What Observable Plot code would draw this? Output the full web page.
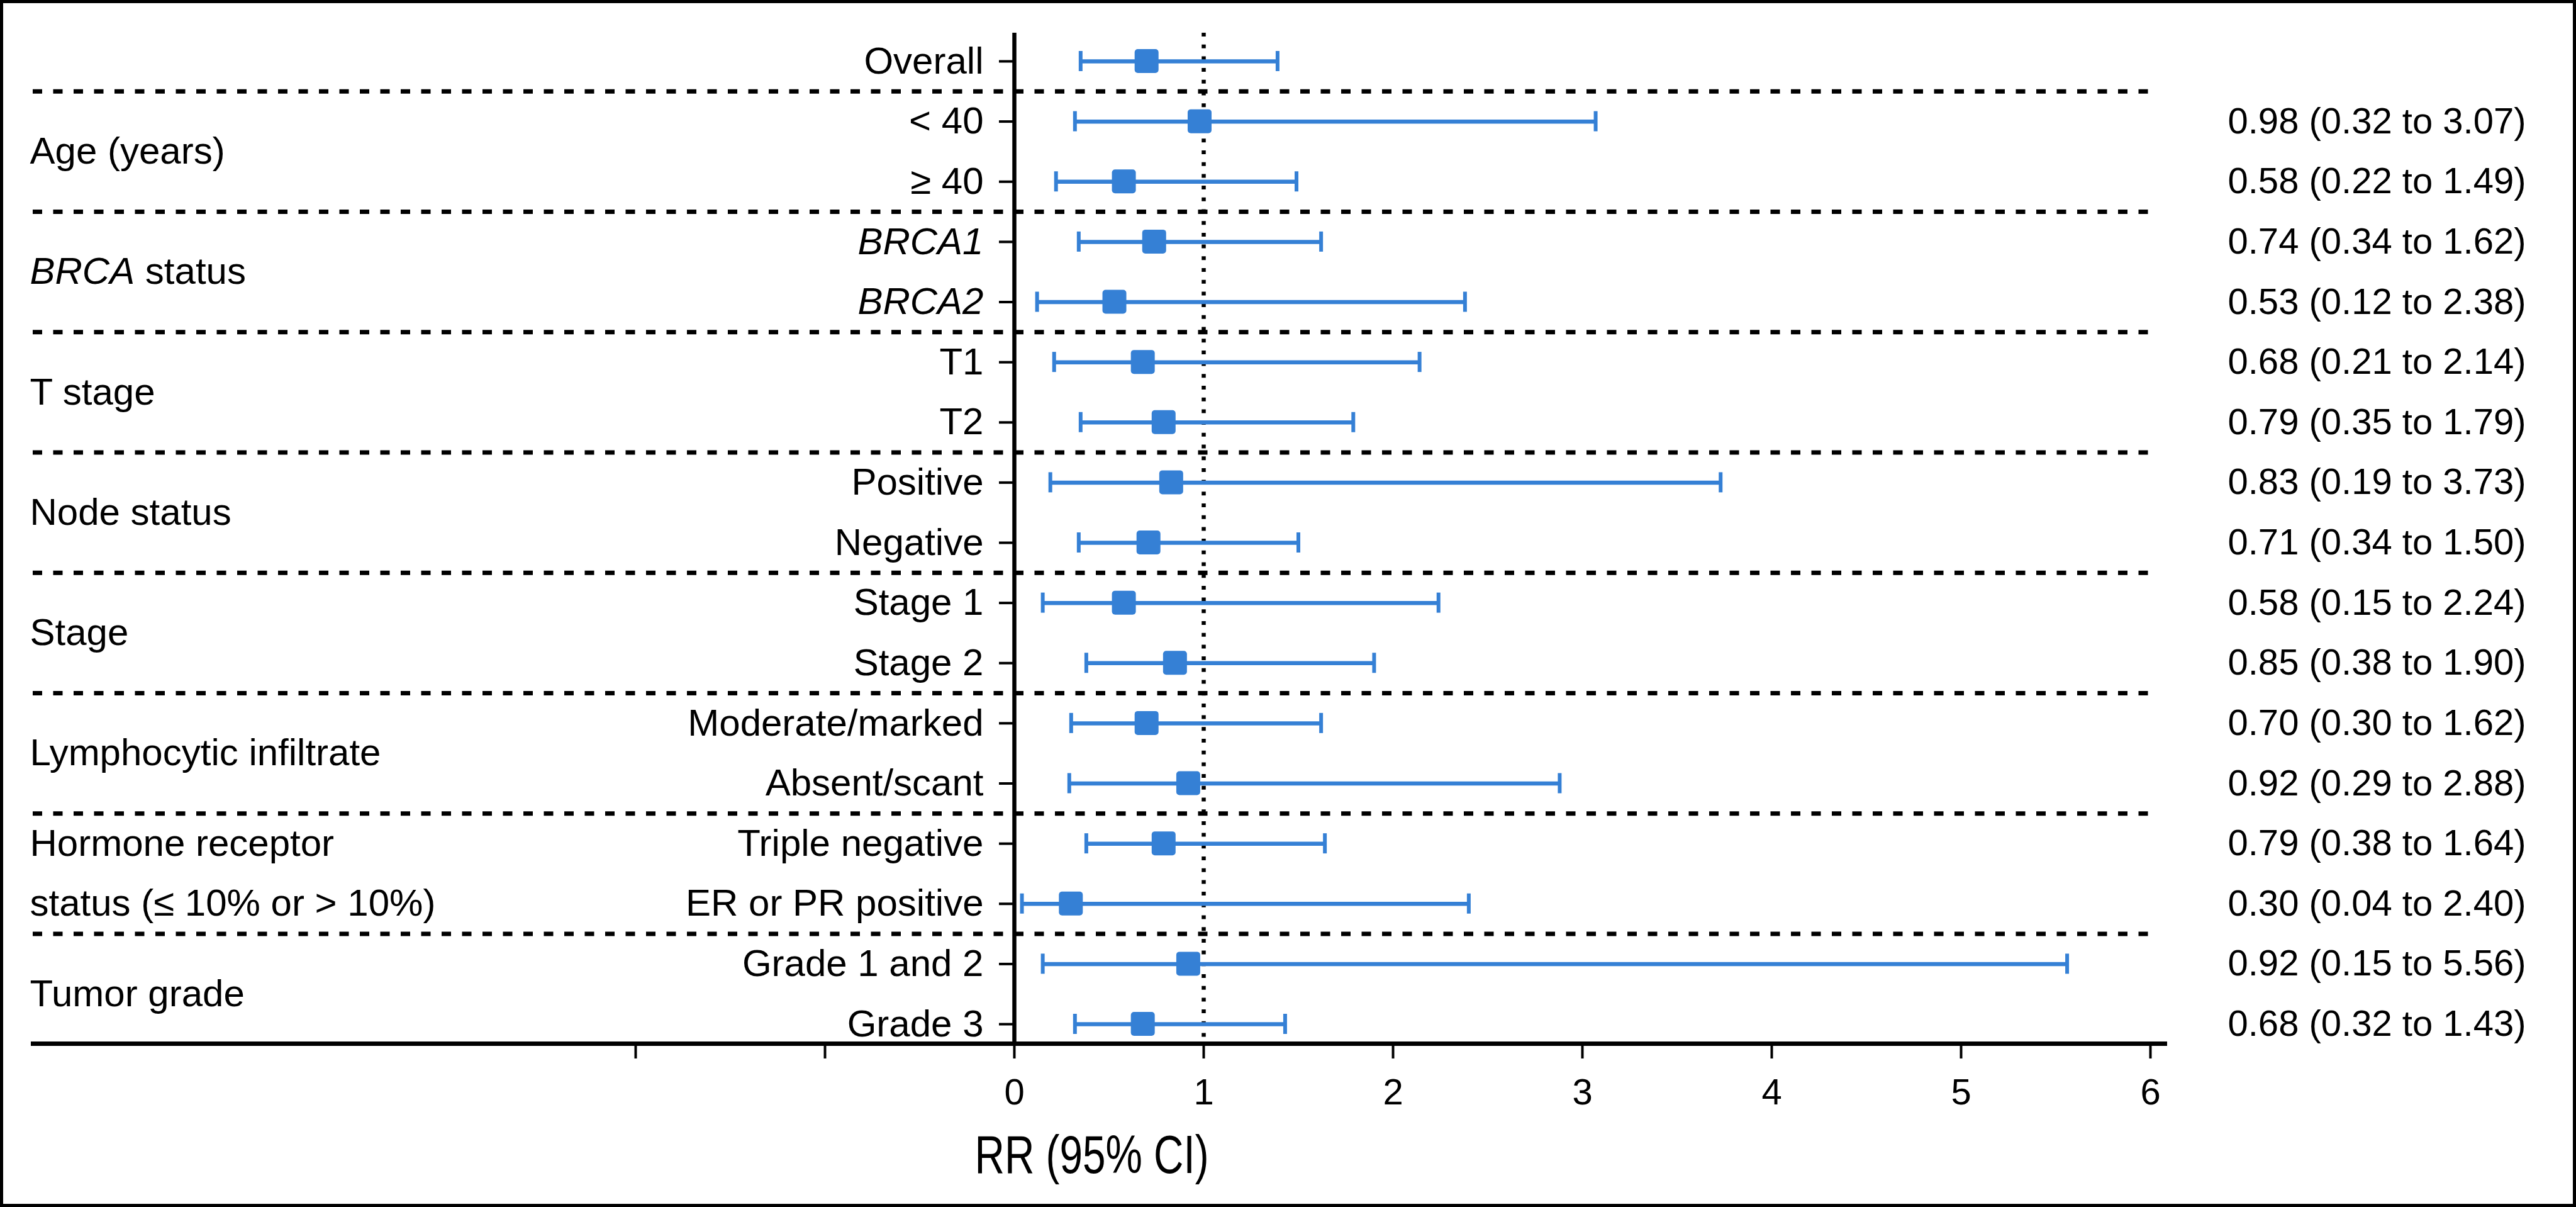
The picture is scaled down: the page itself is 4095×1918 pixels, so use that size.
<!DOCTYPE html>
<html>
<head>
<meta charset="utf-8">
<script src="https://cdn.jsdelivr.net/npm/d3@7"></script>
<script src="https://cdn.jsdelivr.net/npm/@observablehq/plot@0.6"></script>
<style>
  html, body { margin: 0; padding: 0; background: #fff; overflow: hidden; }
  #wrap { position: relative; width: 4095px; height: 1918px; }
  #border { position: absolute; left: 0; top: 0; width: 4095px; height: 1918px; box-sizing: border-box; border: 5px solid #000; pointer-events: none; }
</style>
</head>
<body>
<div id="wrap"><div id="chart"></div><div id="border"></div></div>
<script>
// ---- data ----
const rowLabels = ["Overall", "< 40", "≥ 40", "BRCA1", "BRCA2", "T1", "T2", "Positive", "Negative",
  "Stage 1", "Stage 2", "Moderate/marked", "Absent/scant", "Triple negative", "ER or PR positive",
  "Grade 1 and 2", "Grade 3"];
const rowGroup = [0, 1, 1, 2, 2, 3, 3, 4, 4, 5, 5, 6, 6, 7, 7, 8, 8];
const groupLabels = [
  [],
  ["Age (years)"],
  ["BRCA status"],
  ["T stage"],
  ["Node status"],
  ["Stage"],
  ["Lymphocytic infiltrate"],
  ["Hormone receptor", "status (≤ 10% or > 10%)"],
  ["Tumor grade"]
];
const italicRowLabels = ["BRCA1", "BRCA2"];
const italicWords = ["BRCA"];
const rr     = [0.70, 0.98, 0.58, 0.74, 0.53, 0.68, 0.79, 0.83, 0.71, 0.58, 0.85, 0.70, 0.92, 0.79, 0.30, 0.92, 0.68];
const ciLow  = [0.35, 0.32, 0.22, 0.34, 0.12, 0.21, 0.35, 0.19, 0.34, 0.15, 0.38, 0.30, 0.29, 0.38, 0.04, 0.15, 0.32];
const ciHigh = [1.39, 3.07, 1.49, 1.62, 2.38, 2.14, 1.79, 3.73, 1.50, 2.24, 1.90, 1.62, 2.88, 1.64, 2.40, 5.56, 1.43];
const showEstimate = [false, true, true, true, true, true, true, true, true, true, true, true, true, true, true, true, true];
const xTicks = [-2, -1, 0, 1, 2, 3, 4, 5, 6];
const xTickLabels = ["", "", "0", "1", "2", "3", "4", "5", "6"];
const referenceValue = 1;
const axisLineValue = 0;
const xTitle = "RR (95% CI)";

// ---- derived tables ----
const rows = rowLabels.map((label, i) => ({
  i, label, group: rowGroup[i], rr: rr[i], lo: ciLow[i], hi: ciHigh[i],
  est: showEstimate[i] ? `${rr[i].toFixed(2)} (${ciLow[i].toFixed(2)} to ${ciHigh[i].toFixed(2)})` : ""
}));
const separators = rows.filter((r, i) => i > 0 && rowGroup[i] !== rowGroup[i - 1]).map(r => r.i - 0.5);
const groupText = [];
groupLabels.forEach((lines, g) => {
  const members = rows.filter(r => r.group === g).map(r => r.i);
  if (!lines.length) return;
  if (lines.length === members.length) {
    lines.forEach((t, k) => groupText.push({text: t, y: members[k]}));
  } else {
    groupText.push({text: lines.join(" "), y: d3.mean(members)});
  }
});

const blue = "#3580d5";
const font = "'Liberation Sans', Arial, Helvetica, sans-serif";

const chart = Plot.plot({
  width: 4095,
  height: 1918,
  marginLeft: 52,
  marginRight: 677,
  marginTop: 52,
  marginBottom: 260,
  x: {domain: [0, 6], range: [1612, 3418], axis: null},
  y: {domain: [0, rowLabels.length - 1], range: [97, 1627], axis: null},
  style: {fontFamily: font, fontSize: "60px", color: "#000", background: "transparent", overflow: "visible"},
  marks: [
    Plot.ruleY(separators, {y: d => d, stroke: "#000", strokeWidth: 7, strokeDasharray: "15,17.5"}),
    Plot.ruleX([referenceValue], {x: d => d, stroke: "#000", strokeWidth: 6.5, strokeDasharray: "6,12.7"}),
    Plot.ruleX([axisLineValue], {x: d => d, stroke: "#000", strokeWidth: 6.5}),
    Plot.frame({anchor: "bottom", stroke: "#000", strokeWidth: 7, insetRight: -23}),
    Plot.axisX({ticks: xTicks, tickSize: 24, tickPadding: 31, tickFormat: d => xTickLabels[xTicks.indexOf(d)],
      strokeWidth: 4, fontSize: 58, label: null}),
    Plot.ruleY(rows, {y: "i", x1: axisLineValue, x2: axisLineValue, insetLeft: -24, stroke: "#000", strokeWidth: 4}),
    Plot.ruleY(rows, {y: "i", x1: "lo", x2: "hi", stroke: blue, strokeWidth: 6.5}),
    Plot.ruleX(rows, {x: "lo", y1: "i", y2: "i", insetTop: -16, insetBottom: -16, stroke: blue, strokeWidth: 6}),
    Plot.ruleX(rows, {x: "hi", y1: "i", y2: "i", insetTop: -16, insetBottom: -16, stroke: blue, strokeWidth: 6}),
    Plot.rect(rows, {x1: "rr", x2: "rr", y1: "i", y2: "i", inset: -19, rx: 5, ry: 5, fill: blue}),
    Plot.text(rows.filter(r => !italicRowLabels.includes(r.label)), {x: axisLineValue, y: "i", text: "label",
      textAnchor: "end", dx: -49, lineAnchor: "middle", fontSize: 60, fill: "#000"}),
    Plot.text(rows.filter(r => italicRowLabels.includes(r.label)), {x: axisLineValue, y: "i", text: "label",
      textAnchor: "end", dx: -49, lineAnchor: "middle", fontSize: 60, fontStyle: "italic", fill: "#000"}),
    Plot.text(groupText, {frameAnchor: "left", y: "y", text: "text", textAnchor: "start", dx: -5,
      lineAnchor: "middle", fontSize: 60, fill: "#000"}),
    Plot.text(rows.filter(r => r.est), {frameAnchor: "right", y: "i", text: "est", textAnchor: "start", dx: 123,
      lineAnchor: "middle", fontSize: 58, fill: "#000"}),
    Plot.text([xTitle], {frameAnchor: "bottom", text: d => d, dy: 205, lineAnchor: "bottom", fontSize: 85,
      fill: "#000"})
  ]
});

// italicize leading words in group labels (e.g. "BRCA status"); condense the axis title
d3.select(chart).selectAll("text").each(function () {
  const t = this.textContent;
  for (const w of italicWords) {
    if (t.startsWith(w + " ") && !italicRowLabels.includes(t)) {
      const rest = t.slice(w.length);
      const el = d3.select(this);
      el.text(null);
      el.append("tspan").attr("font-style", "italic").text(w);
      el.append("tspan").text(rest);
    }
  }
  if (t === xTitle) {
    d3.select(this).attr("textLength", 372).attr("lengthAdjust", "spacingAndGlyphs");
  }
});

document.getElementById("chart").appendChild(chart);
</script>
</body>
</html>
